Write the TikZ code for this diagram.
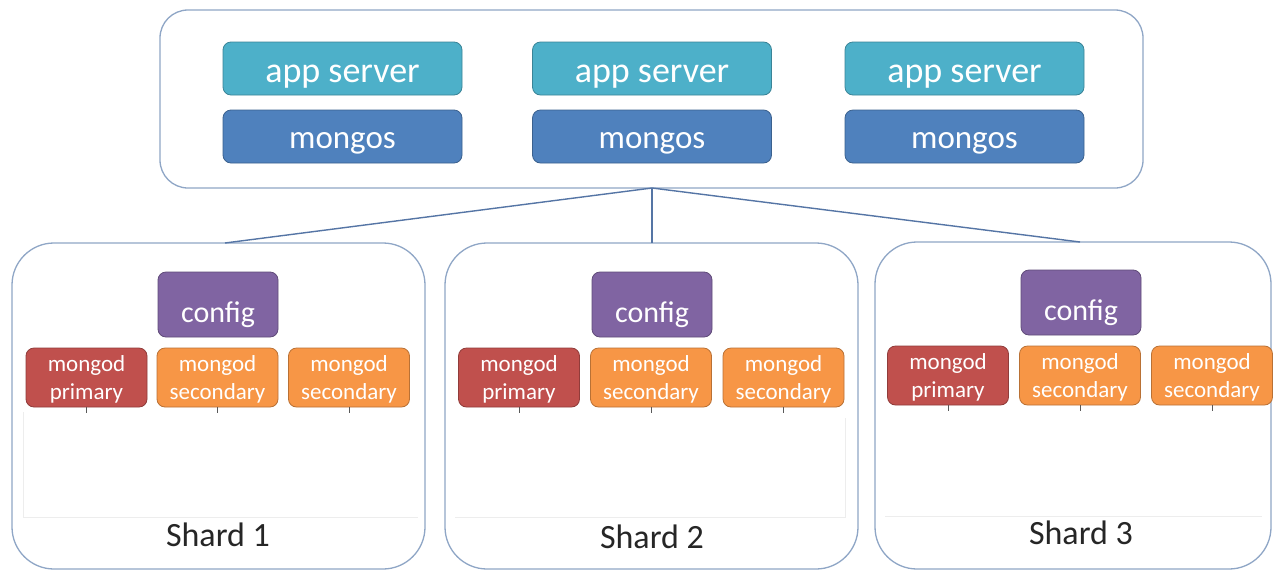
\documentclass[tikz,border=0pt]{standalone}
\usepackage{fontspec}
\setmainfont{Carlito}
\definecolor{appc}{HTML}{4DB0C9}
\definecolor{mgsc}{HTML}{4F81BD}
\definecolor{cfgc}{HTML}{8064A2}
\definecolor{pric}{HTML}{C0504D}
\definecolor{secc}{HTML}{F79646}
\definecolor{framec}{HTML}{8FA6C6}
\definecolor{linkc}{HTML}{5575A5}
\begin{document}
\begin{tikzpicture}[x=1pt,y=-1pt,
  box/.style={rounded corners=8pt, draw=#1!75!black, fill=#1, line width=0.8pt, text=white, inner sep=0pt, align=center, text depth=0pt},
  appbox/.style={box=appc, minimum width=239pt, minimum height=53pt, text height=28pt, font=\fontsize{36}{40}\selectfont},
  mgsbox/.style={box=mgsc, minimum width=239pt, minimum height=53pt, text height=24pt, font=\fontsize{33}{40}\selectfont},
  cfgbox/.style={box=cfgc, minimum width=120pt, minimum height=65pt, text height=35pt, font=\fontsize{30}{36}\selectfont},
  pribox/.style={box=pric, minimum width=121pt, minimum height=59pt, font=\fontsize{23}{28}\selectfont},
  secbox/.style={box=secc, minimum width=121pt, minimum height=59pt, font=\fontsize{23}{28}\selectfont},
  frame/.style={draw=framec, line width=1.3pt, rounded corners=#1},
  link/.style={draw=linkc, line width=1.4pt},
  tick/.style={draw=black!65, line width=1pt},
  faint/.style={draw=black!7, line width=1pt},
  label/.style={font=\fontsize{34}{40}\selectfont, text=black!85}
]
\useasboundingbox (0,0) rectangle (1274,571);
\fill[white] (0,0) rectangle (1274,571);

% top container
\draw[frame=28pt] (160,10) rectangle (1143,188);
\node[appbox] (a1) at (342.5,68.5) {app server};
\node[appbox] (a2) at (652,68.5) {app server};
\node[appbox] (a3) at (964.5,68.5) {app server};
\node[mgsbox] (m1) at (342.5,136.5) {mongos};
\node[mgsbox] (m2) at (652,136.5) {mongos};
\node[mgsbox] (m3) at (964.5,136.5) {mongos};

% shard containers
\draw[frame=42pt] (12,243) rectangle (425,569);
\draw[frame=42pt] (445,243) rectangle (858,569);
\draw[frame=42pt] (875,242) rectangle (1271,569);

% faint inner panels
\draw[faint] (23,412) -- (23,517) -- (418,517);
\draw[faint] (455,517) -- (845,517) -- (845,418);
\draw[faint] (885,516) -- (1262,516);

% connectors
\coordinate (hub) at (652,188);
\coordinate (s1top) at (225,243);
\coordinate (s2top) at (652,243);
\coordinate (s3top) at (1080,242);
\draw[link] (hub) -- (s1top);
\draw[link] (hub) -- (s2top);
\draw[link] (hub) -- (s3top);

% shard 1
\node[cfgbox] (c1) at (218,304.5) {config};
\node[pribox] (p1) at (86.5,377.5) {mongod\\primary};
\node[secbox] (s1a) at (217.5,377.5) {mongod\\secondary};
\node[secbox] (s1b) at (349,377.5) {mongod\\secondary};
\node[label] (l1) at (218,535) {Shard 1};

% shard 2
\node[cfgbox] (c2) at (652,304.5) {config};
\node[pribox] (p2) at (519,377.5) {mongod\\primary};
\node[secbox] (s2a) at (651,377.5) {mongod\\secondary};
\node[secbox] (s2b) at (783.5,377.5) {mongod\\secondary};
\node[label] (l2) at (652,537) {Shard 2};

% shard 3
\node[cfgbox] (c3) at (1081,302.5) {config};
\node[pribox] (p3) at (948,375.5) {mongod\\primary};
\node[secbox] (s3a) at (1080,375.5) {mongod\\secondary};
\node[secbox] (s3b) at (1212,375.5) {mongod\\secondary};
\node[label] (l3) at (1081,533) {Shard 3};

% ticks under mongod boxes
\foreach \n in {p1,s1a,s1b,p2,s2a,s2b,p3,s3a,s3b}{
  \coordinate (\n t) at ([yshift=-6pt]\n.south);
  \draw[tick] (\n.south) -- (\n t);
}
\end{tikzpicture}
\end{document}
